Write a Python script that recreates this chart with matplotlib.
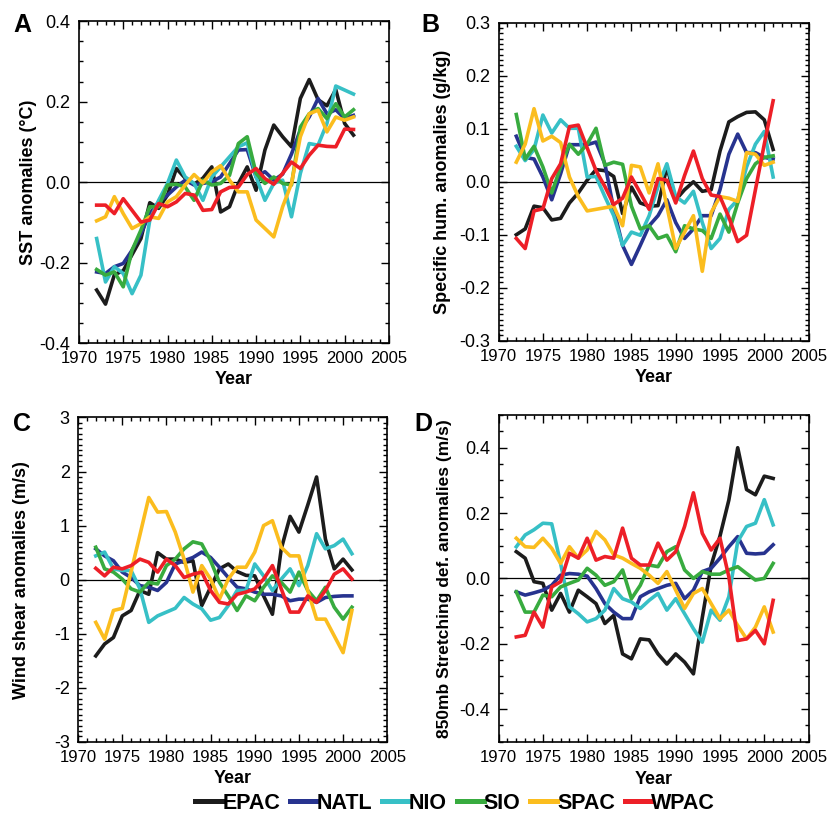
import matplotlib
matplotlib.use("Agg")
import matplotlib.pyplot as plt
from matplotlib.ticker import MultipleLocator
from matplotlib.lines import Line2D

plt.rcParams['font.family'] = ['Liberation Sans', 'DejaVu Sans']

years = list(range(1972, 2002))
regions = ["EPAC", "NATL", "NIO", "SIO", "SPAC", "WPAC"]
colors = ["#1c1c1c", "#27338f", "#37c0c6", "#38ab3f", "#fbbd1e", "#ed1f27"]

# Panel A: SST anomalies (deg C)
EPAC_A = [-0.268, -0.303, -0.23, -0.22, -0.18, -0.14, -0.051, -0.065, -0.032, 0.034, 0.01, -0.005, 0.01, 0.038, -0.074, -0.061, -0.003, 0.038, -0.02, 0.08, 0.142, 0.113, 0.088, 0.208, 0.255, 0.205, 0.19, 0.23, 0.146, 0.117]
NATL_A = [-0.223, -0.227, -0.21, -0.202, -0.169, -0.128, -0.078, -0.049, -0.032, -0.012, 0.005, -0.007, -0.003, 0.001, 0.013, 0.046, 0.08, 0.081, 0.013, 0.026, 0.005, 0.02, 0.07, 0.13, 0.162, 0.208, 0.17, 0.18, 0.158, 0.166]
NIO_A = [-0.14, -0.248, -0.21, -0.227, -0.277, -0.231, -0.094, -0.045, -0.003, 0.055, 0.013, -0.003, -0.045, 0.013, 0.038, 0.063, 0.088, 0.098, 0.013, -0.045, -0.003, 0.005, -0.086, 0.022, 0.096, 0.092, 0.146, 0.239, 0.229, 0.219]
SIO_A = [-0.217, -0.231, -0.223, -0.26, -0.169, -0.119, -0.061, -0.061, -0.007, -0.005, -0.012, -0.045, 0.005, -0.007, -0.003, 0.017, 0.096, 0.113, 0.022, -0.003, 0.013, -0.003, -0.007, 0.137, 0.17, 0.183, 0.158, 0.195, 0.162, 0.18]
SPAC_A = [-0.096, -0.086, -0.036, -0.078, -0.115, -0.103, -0.086, -0.09, -0.049, -0.036, -0.007, 0.019, -0.002, 0.026, 0.041, 0.005, -0.024, -0.024, -0.094, -0.115, -0.136, -0.061, -0.003, 0.113, 0.17, 0.179, 0.125, 0.162, 0.154, 0.162]
WPAC_A = [-0.057, -0.057, -0.078, -0.041, -0.07, -0.099, -0.094, -0.053, -0.061, -0.049, -0.028, -0.032, -0.07, -0.068, -0.024, -0.013, -0.012, 0.019, 0.034, 0.009, -0.005, 0.022, 0.05, 0.034, 0.067, 0.092, 0.089, 0.088, 0.132, 0.131]

# Panel B: specific humidity anomalies (g/kg)
EPAC_B = [-0.10, -0.089, -0.046, -0.049, -0.072, -0.069, -0.04, -0.021, 0.003, 0.023, 0.021, 0.01, -0.06, -0.01, -0.04, -0.046, -0.045, 0.028, -0.034, -0.015, 0.0, -0.018, -0.015, 0.058, 0.113, 0.123, 0.131, 0.132, 0.117, 0.061]
NATL_B = [0.086, 0.046, 0.043, 0.009, -0.034, 0.015, 0.07, 0.07, 0.07, 0.075, 0.034, -0.052, -0.12, -0.156, -0.12, -0.083, -0.064, -0.034, -0.077, -0.107, -0.089, -0.064, -0.064, -0.015, 0.052, 0.09, 0.055, 0.055, 0.046, 0.043]
NIO_B = [0.067, 0.04, 0.061, 0.126, 0.092, 0.117, 0.101, 0.101, 0.009, 0.01, -0.028, -0.064, -0.12, -0.095, -0.101, -0.064, -0.009, 0.034, -0.028, -0.04, -0.018, -0.077, -0.126, -0.107, -0.052, -0.034, 0.028, 0.071, 0.095, 0.009]
SIO_B = [0.127, 0.043, 0.067, 0.028, -0.021, 0.028, 0.071, 0.052, 0.071, 0.101, 0.031, 0.037, 0.033, -0.046, -0.089, -0.083, -0.107, -0.101, -0.132, -0.083, -0.089, -0.092, -0.107, -0.061, -0.095, -0.04, 0.006, 0.034, 0.046, 0.049]
SPAC_B = [0.037, 0.071, 0.138, 0.077, 0.086, 0.074, 0.009, -0.028, -0.055, -0.052, -0.049, -0.046, -0.083, 0.031, 0.028, -0.021, 0.034, -0.046, -0.126, -0.095, -0.064, -0.169, -0.058, -0.028, -0.031, -0.037, 0.055, 0.052, 0.031, 0.037]
WPAC_B = [-0.107, -0.126, -0.055, -0.051, 0.006, 0.034, 0.104, 0.107, 0.064, 0.021, -0.009, -0.043, -0.031, 0.009, -0.021, -0.052, 0.006, 0.003, -0.04, 0.012, 0.058, 0.006, -0.025, -0.028, -0.067, -0.113, -0.101, -0.015, 0.071, 0.153]

# Panel C: wind shear anomalies (m/s)
EPAC_C = [-1.41, -1.19, -1.07, -0.67, -0.57, -0.2, -0.27, 0.5, 0.38, 0.38, 0.32, 0.35, -0.48, -0.14, 0.2, 0.29, 0.15, 0.08, 0.07, -0.3, -0.64, 0.57, 1.17, 0.88, 1.38, 1.9, 0.75, 0.2, 0.38, 0.18]
NATL_C = [0.57, 0.44, 0.35, 0.14, 0.04, -0.11, -0.14, -0.2, -0.05, 0.29, 0.35, 0.41, 0.51, 0.41, 0.23, 0.04, -0.14, -0.17, -0.23, -0.27, -0.27, -0.3, -0.39, -0.36, -0.36, -0.42, -0.33, -0.31, -0.3, -0.3]
NIO_C = [0.44, 0.51, 0.2, 0.17, 0.17, -0.17, -0.79, -0.67, -0.6, -0.53, -0.33, -0.45, -0.54, -0.75, -0.7, -0.48, -0.2, -0.2, 0.29, 0.07, -0.2, 0.01, 0.2, -0.11, 0.26, 0.85, 0.57, 0.63, 0.75, 0.48]
SIO_C = [0.6, 0.2, 0.14, 0.01, -0.17, -0.23, -0.05, -0.08, 0.26, 0.38, 0.57, 0.7, 0.66, 0.35, -0.05, -0.3, -0.57, -0.3, -0.39, -0.14, 0.07, -0.05, -0.23, 0.14, -0.2, -0.39, -0.14, -0.51, -0.73, -0.51]
SPAC_C = [-0.79, -1.1, -0.57, -0.53, 0.15, 0.83, 1.52, 1.25, 1.26, 0.88, 0.38, -0.23, 0.26, 0.01, -0.36, 0.01, 0.23, 0.23, 0.51, 1.0, 1.09, 0.6, 0.44, 0.44, -0.2, -0.73, -0.73, -1.04, -1.35, -0.57]
WPAC_C = [0.21, 0.07, 0.23, 0.2, 0.26, 0.38, 0.32, 0.14, 0.38, 0.26, 0.04, 0.1, 0.14, -0.2, -0.42, -0.45, -0.27, -0.23, -0.17, 0.01, 0.26, -0.17, -0.6, -0.6, -0.3, -0.42, -0.2, 0.1, 0.2, 0.01]

# Panel D: 850mb stretching deformation anomalies (m/s)
EPAC_D = [0.082, 0.062, -0.01, -0.015, -0.097, -0.046, -0.103, -0.036, -0.056, -0.077, -0.138, -0.113, -0.231, -0.246, -0.185, -0.188, -0.231, -0.262, -0.231, -0.256, -0.292, -0.12, 0.04, 0.13, 0.24, 0.40, 0.272, 0.256, 0.313, 0.306]
NATL_D = [-0.041, -0.051, -0.044, -0.036, -0.021, 0.01, 0.015, 0.013, 0.007, -0.031, -0.077, -0.103, -0.123, -0.123, -0.056, -0.041, -0.031, -0.021, -0.015, -0.062, -0.036, 0.021, 0.031, 0.062, 0.097, 0.128, 0.077, 0.075, 0.077, 0.103]
NIO_D = [0.097, 0.133, 0.149, 0.169, 0.167, 0.046, -0.087, -0.108, -0.133, -0.123, -0.097, -0.031, -0.062, -0.072, -0.092, -0.067, -0.046, -0.097, -0.062, -0.108, -0.154, -0.195, -0.097, -0.128, -0.056, 0.113, 0.159, 0.169, 0.241, 0.164]
SIO_D = [-0.041, -0.103, -0.103, -0.051, -0.056, -0.026, -0.015, -0.005, 0.031, 0.01, -0.021, -0.01, 0.026, -0.062, -0.021, 0.041, 0.036, 0.082, 0.097, 0.026, 0.0, 0.021, 0.013, 0.013, 0.026, 0.036, 0.015, -0.005, 0.0, 0.046]
SPAC_D = [0.123, 0.097, 0.095, 0.123, 0.092, 0.046, 0.097, 0.062, 0.087, 0.144, 0.118, 0.072, 0.062, 0.046, 0.031, 0.01, -0.015, 0.021, -0.036, -0.092, -0.046, -0.031, -0.077, -0.123, -0.097, -0.144, -0.185, -0.149, -0.087, -0.164]
WPAC_D = [-0.179, -0.174, -0.103, -0.149, -0.026, -0.01, 0.077, 0.062, 0.123, 0.056, 0.067, 0.062, 0.154, 0.062, 0.041, 0.041, 0.108, 0.056, 0.082, 0.159, 0.262, 0.138, 0.087, 0.123, 0.005, -0.19, -0.185, -0.159, -0.2, -0.067]

panels = [
    dict(letter="A", series=[EPAC_A, NATL_A, NIO_A, SIO_A, SPAC_A, WPAC_A],
         ylabel="SST anomalies (\u00b0C)", ylim=(-0.4, 0.4), major=0.2, minor=0.05,
         fmt="{:.1f}", rect=[0.095, 0.580, 0.373, 0.394], labx=-0.135,
         letter_xy=(0.027, 0.969), ysize=13),
    dict(letter="B", series=[EPAC_B, NATL_B, NIO_B, SIO_B, SPAC_B, WPAC_B],
         ylabel="Specific hum. anomalies (g/kg)", ylim=(-0.3, 0.3), major=0.1, minor=0.01,
         fmt="{:.1f}", rect=[0.600, 0.583, 0.373, 0.389], labx=-0.152,
         letter_xy=(0.518, 0.969), ysize=13),
    dict(letter="C", series=[EPAC_C, NATL_C, NIO_C, SIO_C, SPAC_C, WPAC_C],
         ylabel="Wind shear anomalies (m/s)", ylim=(-3, 3), major=1, minor=0.1,
         fmt="{:.0f}", rect=[0.094, 0.092, 0.372, 0.397], labx=-0.155,
         letter_xy=(0.027, 0.481), ysize=13),
    dict(letter="D", series=[EPAC_D, NATL_D, NIO_D, SIO_D, SPAC_D, WPAC_D],
         ylabel="850mb Stretching def. anomalies (m/s)", ylim=(-0.5, 0.5), major=0.2, minor=0.05,
         fmt="{:.1f}", rect=[0.600, 0.092, 0.373, 0.400], labx=-0.150,
         letter_xy=(0.510, 0.481), ysize=12.5),
]

fig = plt.figure(figsize=(8.31, 8.17), dpi=100)

for p in panels:
    ax = fig.add_axes(p["rect"])
    for s, c in zip(p["series"], colors):
        ax.plot(years, s, color=c, lw=2.6)
    ax.axhline(0, color="black", lw=0.9, zorder=0)
    ax.set_xlim(1970, 2005)
    ax.set_ylim(*p["ylim"])
    ax.xaxis.set_major_locator(MultipleLocator(5))
    ax.xaxis.set_minor_locator(MultipleLocator(1))
    ax.yaxis.set_major_locator(MultipleLocator(p["major"]))
    ax.yaxis.set_minor_locator(MultipleLocator(p["minor"]))
    ax.set_yticks([v for v in ax.get_yticks() if p["ylim"][0] - 1e-9 <= v <= p["ylim"][1] + 1e-9])
    ax.set_yticklabels([p["fmt"].format(v + 0.0) for v in ax.get_yticks()])
    ax.tick_params(which="both", direction="in", top=True, right=True, width=1.0)
    ax.tick_params(axis="x", which="major", labelsize=12, pad=6)
    ax.tick_params(axis="y", which="major", labelsize=13, pad=6)
    ax.tick_params(which="major", length=6)
    ax.tick_params(which="minor", length=3)
    for sp in ax.spines.values():
        sp.set_linewidth(1.2)
    ax.set_xlabel("Year", fontsize=13, fontweight="bold")
    ax.xaxis.set_label_coords(0.5, -0.088)
    ax.set_ylabel(p["ylabel"], fontsize=p["ysize"], fontweight="bold")
    ax.yaxis.set_label_coords(p["labx"], 0.5)
    fig.text(p["letter_xy"][0], p["letter_xy"][1], p["letter"], fontsize=18,
             fontweight="bold", ha="center", va="center")

handles = [Line2D([0], [0], color=c, lw=3.6) for c in colors]
fig.legend(handles, regions, loc="center", bbox_to_anchor=(0.548, 0.017), ncol=6,
           frameon=False, prop={"weight": "bold", "size": 15.5},
           handlelength=1.25, handletextpad=0.0, columnspacing=0.45,
           borderpad=0.1)

fig.savefig("out.png", dpi=100)
